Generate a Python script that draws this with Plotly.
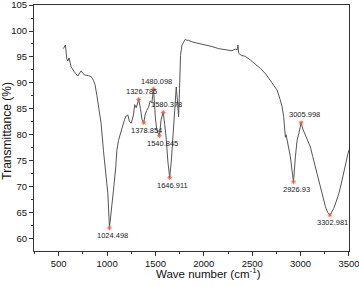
import plotly.graph_objects as go

# Spectrum trace (wave number, transmittance)
wave = [548, 569, 583, 594, 607, 628, 662, 697, 731, 766, 807, 835, 859, 876, 894, 910,
        938, 962, 987, 1008, 1024.498, 1042, 1066, 1090, 1101, 1118, 1145, 1169, 1180, 1197,
        1215, 1231, 1249, 1273, 1285, 1301, 1326.785, 1345, 1360, 1378.854, 1395, 1411, 1428,
        1446, 1463, 1480.098, 1490, 1500, 1515, 1540.845, 1559, 1580.378, 1595, 1608, 1629,
        1646.911, 1663, 1687, 1704, 1715, 1728, 1739, 1749, 1759, 1774, 1790, 1808, 1825,
        1842, 1877, 1950, 2015, 2085, 2153, 2220, 2291, 2325, 2345, 2353, 2360, 2387, 2430,
        2481, 2530, 2584, 2640, 2688, 2725, 2757, 2785, 2809, 2825, 2833, 2843, 2850, 2861,
        2880, 2895, 2912, 2926.93, 2946, 2964, 2985, 3005.998, 3025, 3050, 3075, 3102, 3125,
        3153, 3180, 3205, 3230, 3257, 3280, 3302.981, 3320, 3343, 3370, 3395, 3420, 3446,
        3475, 3498]
trans = [96.6, 97.3, 94.7, 94.2, 94.8, 93.1, 92.1, 91.3, 92.3, 91.5, 91.4, 91.2, 90.5, 89.6, 87.6, 85.7,
         82.2, 77.0, 72.5, 68.6, 62.0, 64.8, 69.3, 73.8, 77.0, 78.9, 80.9, 82.2, 82.9, 83.6,
         83.8, 82.5, 82.2, 83.8, 85.8, 85.2, 86.8, 85.0, 83.0, 82.3, 84.0, 84.7, 85.3,
         86.5, 86.2, 88.8, 85.5, 83.0, 80.8, 79.8, 83.0, 84.3, 82.0, 79.9, 74.7,
         71.7, 74.7, 81.2, 86.3, 89.2, 86.3, 83.4, 88.9, 95.3, 97.3, 97.9, 98.4, 98.2,
         98.2, 97.9, 97.6, 97.3, 97.0, 96.6, 96.4, 96.2, 96.5, 96.4, 97.3, 95.7, 95.3, 95.1,
         94.4, 93.7, 92.8, 91.7, 90.5, 89.6, 88.6, 87.0, 85.4, 83.5, 82.2, 79.5, 80.0, 78.9,
         77.0, 75.7, 73.0, 70.9, 75.7, 78.9, 80.5, 82.3, 81.0, 79.9, 78.8, 77.6, 75.8,
         73.8, 71.8, 69.9, 68.0, 66.1, 65.0, 64.5, 65.0, 65.8, 67.2, 68.6, 70.5, 72.5,
         74.8, 77.0]

# Labelled peaks
peak_x = [1024.498, 1326.785, 1378.854, 1480.098, 1540.845, 1580.378, 1646.911,
          2926.93, 3005.998, 3302.981]
peak_y = [62.0, 86.8, 82.3, 88.8, 79.8, 84.3, 71.7, 70.9, 82.3, 64.5]
peak_labels = ["1024.498", "1326.785", "1378.854", "1480.098", "1540.845", "1580.378",
               "1646.911", "2926.93", "3005.998", "3302.981"]
label_above = [False, True, False, True, False, True, False, False, True, False]

x_ticks = [500, 1000, 1500, 2000, 2500, 3000, 3500]
y_ticks = [60, 65, 70, 75, 80, 85, 90, 95, 100, 105]

fig = go.Figure()
fig.add_trace(go.Scatter(x=wave, y=trans, mode="lines",
                         line=dict(color="#555555", width=1), hoverinfo="skip"))
fig.add_trace(go.Scatter(x=peak_x, y=peak_y, mode="markers",
                         marker=dict(symbol="asterisk-open", size=4,
                                     line=dict(color="#e85050", width=0.8)),
                         hoverinfo="skip"))

for px, py, lab, up in zip(peak_x, peak_y, peak_labels, label_above):
    fig.add_annotation(x=px, y=py, text=lab, showarrow=False,
                       xshift=3, yshift=8 if up else -8,
                       font=dict(family="Liberation Sans, Arial", size=7.5, color="#222222"))

fig.add_annotation(x=0.553, y=-0.088, xref="paper", yref="paper",
                   text="Wave number (cm<sup>-1</sup>)", showarrow=False,
                   xanchor="center", yanchor="middle",
                   font=dict(family="Liberation Sans, Arial", size=11.5, color="#111111"))
fig.add_annotation(x=-0.085, y=0.49, xref="paper", yref="paper",
                   text="Transmittance (%)", showarrow=False, textangle=-90,
                   xanchor="center", yanchor="middle",
                   font=dict(family="Liberation Sans, Arial", size=12, color="#111111"))

axis_common = dict(showgrid=False, zeroline=False, showline=True, linecolor="#333333",
                   linewidth=1, mirror=True, ticks="outside", ticklen=4, tickwidth=1,
                   tickcolor="#333333", automargin=False, ticklabeloverflow="allow",
                   tickfont=dict(family="Liberation Sans, Arial", size=9.5, color="#111111"))

fig.update_xaxes(range=[244.5, 3500.5], tickvals=x_ticks,
                 minor=dict(dtick=250, tick0=250, ticks="outside", ticklen=2,
                            tickcolor="#333333"),
                 **axis_common)
fig.update_yaxes(range=[57.55, 105.02], tickvals=y_ticks,
                 ticktext=[str(v) for v in y_ticks],
                 minor=dict(dtick=2.5, tick0=57.5, ticks="outside", ticklen=2,
                            tickcolor="#333333"),
                 **axis_common)

fig.update_layout(width=359, height=287, showlegend=False,
                  margin=dict(l=34, r=10.3, t=5, b=36),
                  paper_bgcolor="white", plot_bgcolor="white")

fig.write_html("out.html", config={"displayModeBar": False},
               post_script="document.body.style.margin='0';document.body.style.padding='0';")
